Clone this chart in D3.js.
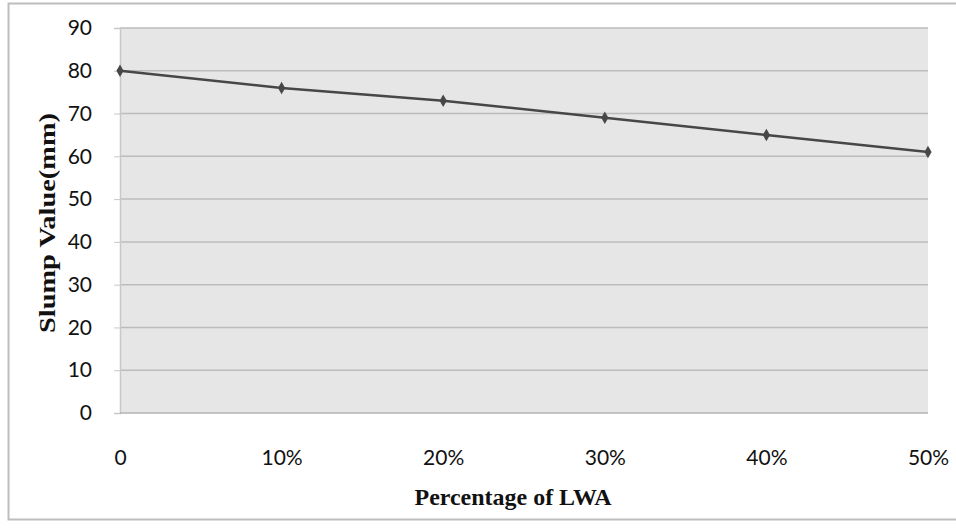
<!DOCTYPE html>
<html><head><meta charset="utf-8">
<script src="https://cdn.jsdelivr.net/npm/d3@7"></script>
<style>body{margin:0;background:#fff}svg{display:block}</style>
</head><body>
<svg id="c" width="956" height="528"></svg>
<script>
const categories = ["0", "10%", "20%", "30%", "40%", "50%"];
const slumpValues = [80, 76, 73, 69, 65, 61];
const yTicks = [0, 10, 20, 30, 40, 50, 60, 70, 80, 90];

const svg = d3.select("#c");
const m = {left: 120, right: 928, top: 28, bottom: 413};

// outer border
svg.append("rect").attr("x", 8.5).attr("y", 3.5).attr("width", 960).attr("height", 516)
  .attr("fill", "#fff").attr("stroke", "#bdbdbd").attr("stroke-width", 2);

const x = d3.scalePoint().domain(categories).range([m.left, m.right]);
const y = d3.scaleLinear().domain([0, 90]).range([m.bottom, m.top]);

svg.append("rect").attr("x", m.left).attr("y", m.top)
  .attr("width", m.right - m.left).attr("height", m.bottom - m.top).attr("fill", "#e6e6e6");

// gridlines
svg.append("g").selectAll("line").data(yTicks.filter(d => d > 0)).join("line")
  .attr("x1", m.left).attr("x2", m.right)
  .attr("y1", d => y(d)).attr("y2", d => y(d))
  .attr("stroke", "#bcbcbc").attr("stroke-width", 1.5);

// y axis
const ya = svg.append("g").attr("transform", `translate(${m.left},0)`)
  .call(d3.axisLeft(y).tickValues(yTicks).tickSize(6).tickPadding(22));
ya.select(".domain").attr("stroke", "#c8c8c8").attr("stroke-width", 1.5);
ya.selectAll(".tick line").attr("stroke", "#c8c8c8");
ya.selectAll("text").attr("font-family", "Lato, 'Open Sans', sans-serif")
  .attr("font-size", 21).attr("fill", "#111");

// x axis baseline
svg.append("line").attr("x1", m.left).attr("x2", m.right)
  .attr("y1", m.bottom).attr("y2", m.bottom).attr("stroke", "#b5b5b5").attr("stroke-width", 1.5);

const xa = svg.append("g").attr("transform", `translate(0,${m.bottom})`)
  .call(d3.axisBottom(x).tickSize(0).tickPadding(37));
xa.select(".domain").remove();
xa.selectAll("text").attr("font-family", "Lato, 'Open Sans', sans-serif")
  .attr("font-size", 21).attr("fill", "#111");

// line
svg.append("path").datum(slumpValues)
  .attr("d", d3.line().x((d, i) => x(categories[i])).y(d => y(d)))
  .attr("fill", "none").attr("stroke", "#474747").attr("stroke-width", 2.5);

svg.append("g").selectAll("path").data(slumpValues).join("path")
  .attr("transform", (d, i) => `translate(${x(categories[i])},${y(d)})`)
  .attr("d", d3.symbol(d3.symbolDiamond, 45))
  .attr("fill", "#474747");

// axis titles
svg.append("text").attr("x", 513).attr("y", 505)
  .attr("text-anchor", "middle").attr("font-family", "'Liberation Serif', serif")
  .attr("font-weight", "bold").attr("font-size", 24).attr("fill", "#111")
  .attr("textLength", 197).attr("lengthAdjust", "spacingAndGlyphs")
  .text("Percentage of LWA");
svg.append("text").attr("transform", `translate(55,223) rotate(-90)`)
  .attr("text-anchor", "middle").attr("font-family", "'Liberation Serif', serif")
  .attr("font-weight", "bold").attr("font-size", 24).attr("fill", "#111")
  .attr("textLength", 220).attr("lengthAdjust", "spacingAndGlyphs")
  .text("Slump Value(mm)");
</script>
</body></html>
